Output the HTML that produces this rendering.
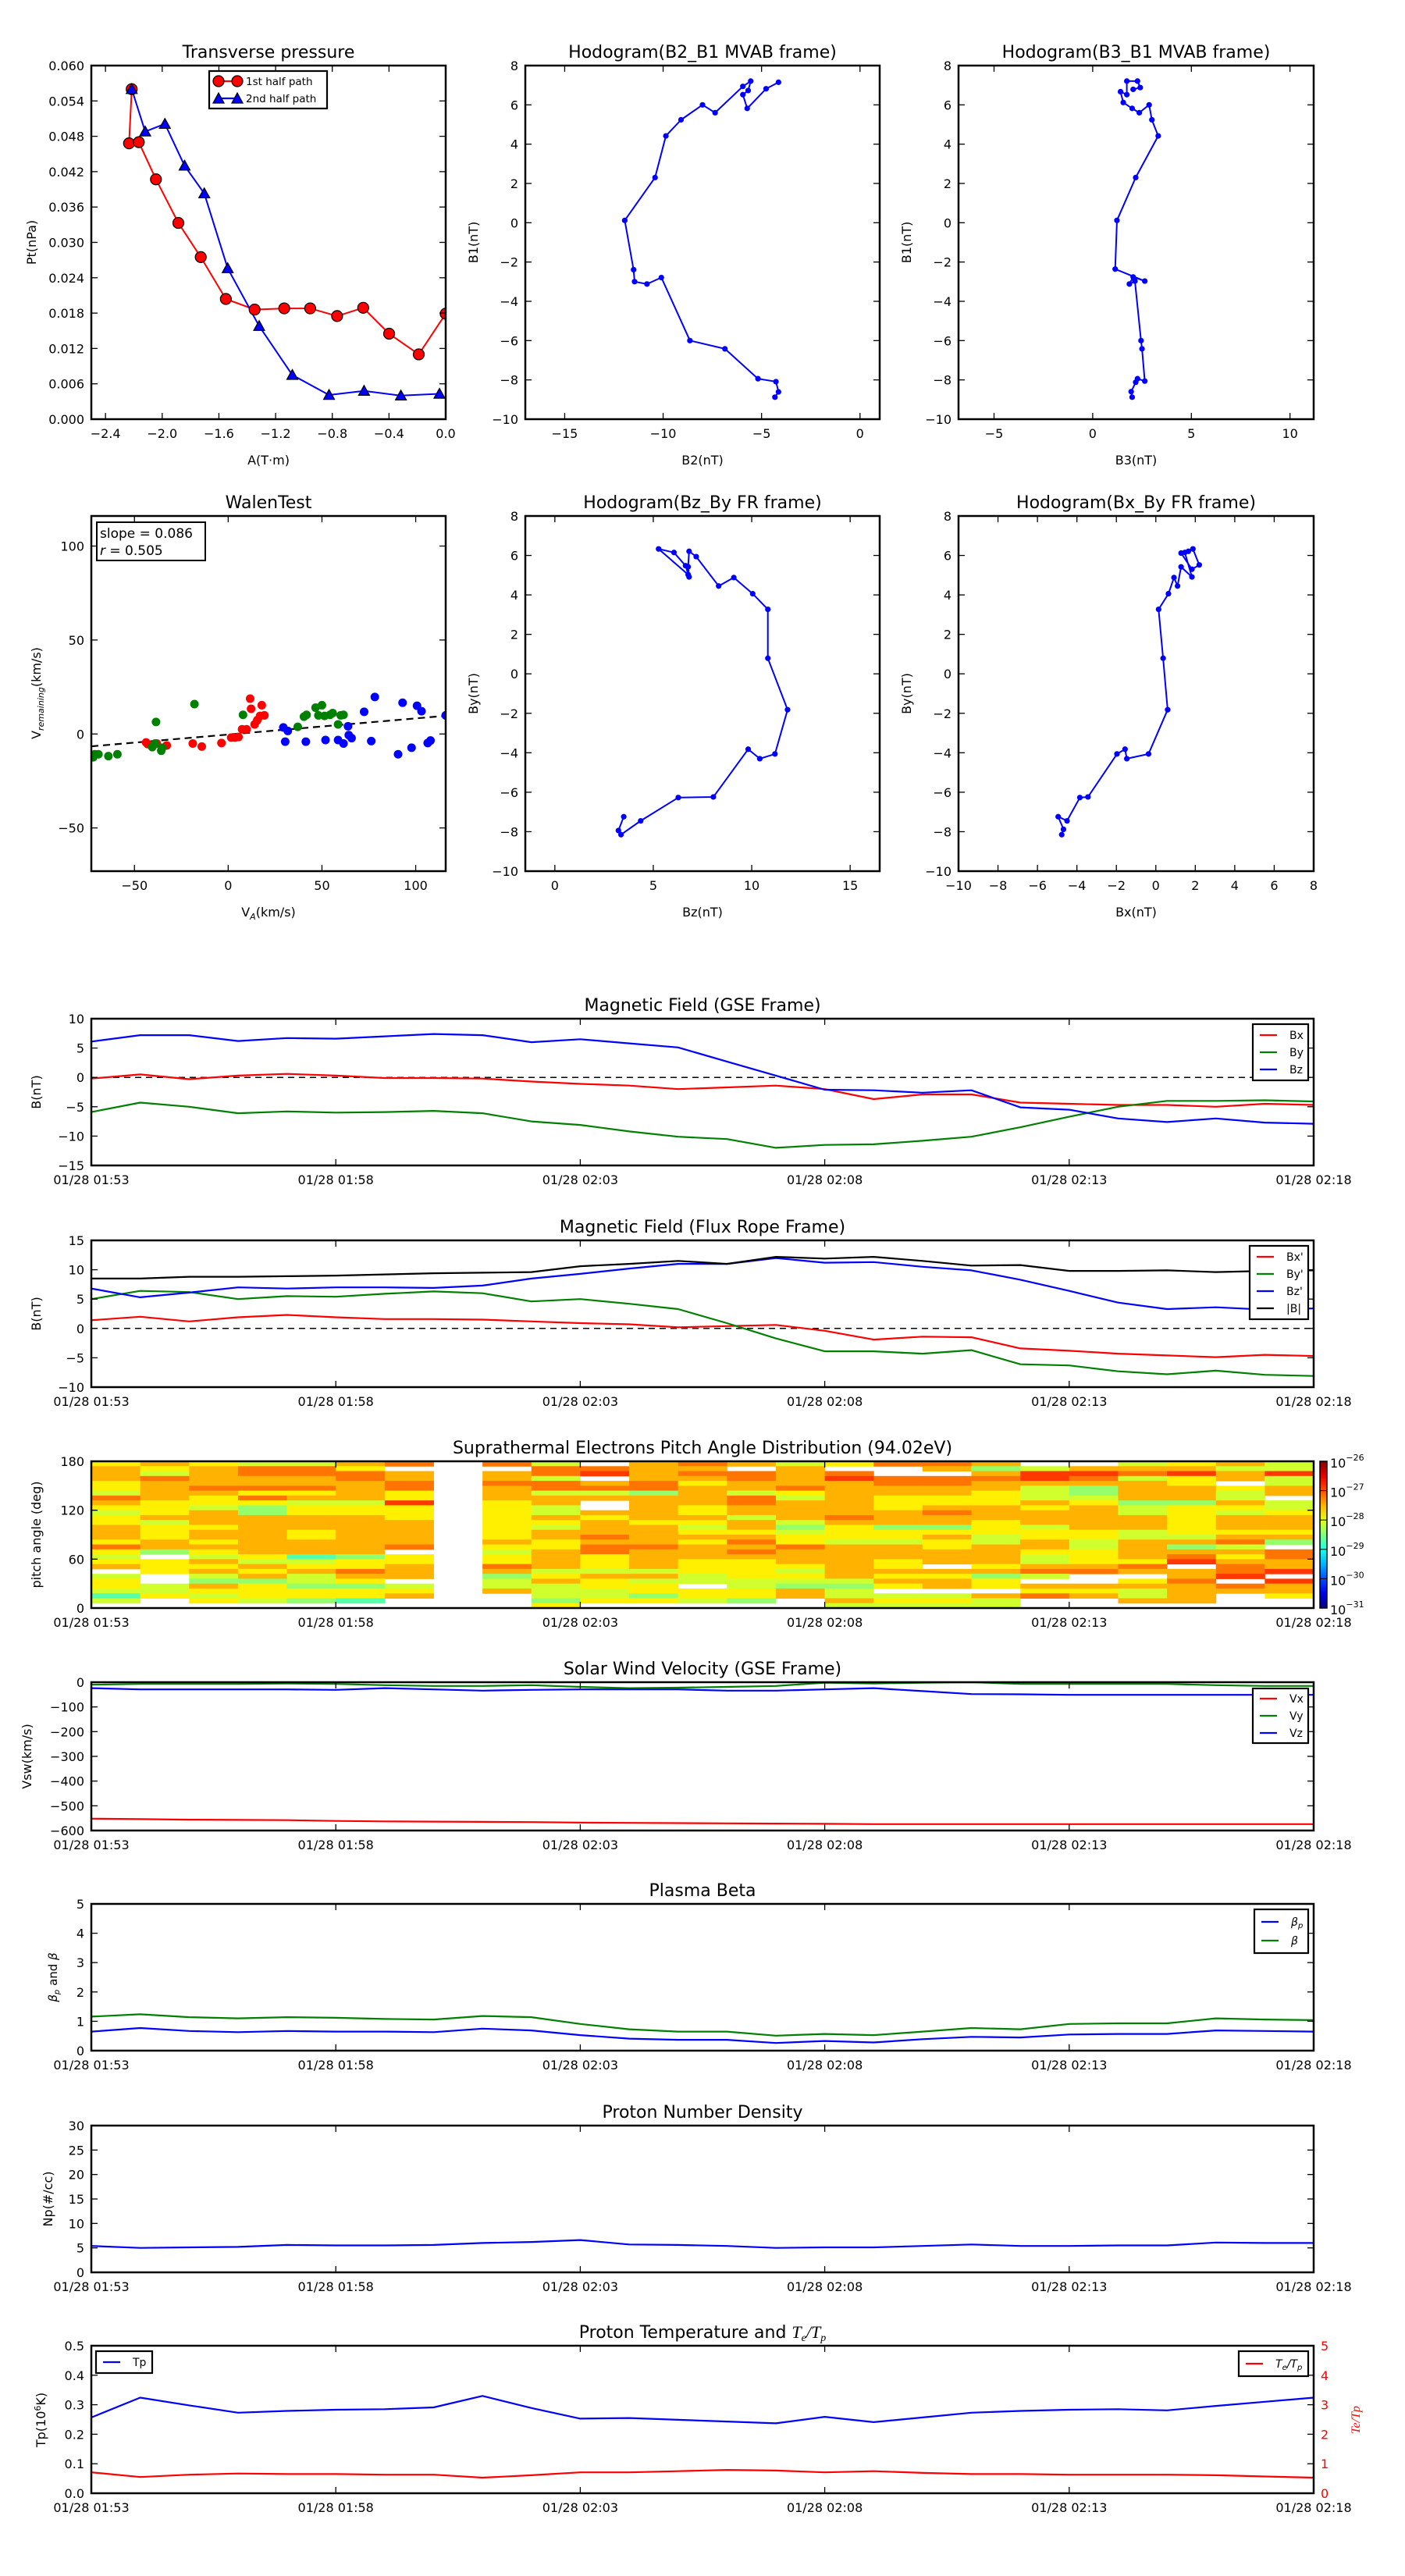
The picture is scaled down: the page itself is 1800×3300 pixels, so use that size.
<!DOCTYPE html>
<html><head><meta charset="utf-8">
<style>
html,body{margin:0;padding:0;background:#fff;}
svg{display:block;font-family:"DejaVu Sans","Liberation Sans",sans-serif;}
</style></head>
<body>
<svg id="fig" width="1800" height="3300" viewBox="0 0 1800 3300" xmlns="http://www.w3.org/2000/svg">
<rect width="1800" height="3300" fill="#fff"/>
</svg>
<script>
// ---------- data: transverse pressure ----------
const ptA1 = [-2.215,-2.234,-2.165,-2.044,-1.886,-1.728,-1.551,-1.348,-1.139,-0.956,-0.766,-0.582,-0.399,-0.190,0.0];
const ptP1 = [0.0560,0.0468,0.0470,0.0407,0.0333,0.0275,0.0204,0.0186,0.0188,0.0188,0.0175,0.0189,0.0145,0.0110,0.0179];
const ptA2 = [-2.215,-2.120,-1.981,-1.842,-1.703,-1.538,-1.316,-1.082,-0.823,-0.576,-0.316,-0.044];
const ptP2 = [0.0560,0.0488,0.0501,0.0430,0.0383,0.0256,0.0158,0.0075,0.0041,0.0048,0.0040,0.0043];
// ---------- hodograms ----------
const h1B2 = [-4.32,-4.14,-4.27,-5.18,-6.86,-8.64,-10.09,-10.82,-11.45,-11.5,-11.95,-10.41,-9.86,-9.09,-8.0,-7.36,-5.95,-5.55,-5.68,-5.95,-5.73,-4.77,-4.14];
const h1B1 = [-8.88,-8.61,-8.09,-7.94,-6.42,-6.0,-2.79,-3.12,-3.0,-2.39,0.12,2.30,4.42,5.24,6.0,5.6,6.94,7.21,6.73,6.52,5.82,6.82,7.15];
const h2B3 = [2.0,1.95,2.18,2.27,2.64,2.5,2.45,2.14,1.86,2.05,2.64,1.14,1.23,2.18,3.32,3.0,2.86,2.36,2.0,1.55,1.41,1.73,1.73,2.27,2.41,2.05];
const h2B1 = [-8.88,-8.6,-8.12,-7.94,-8.06,-6.42,-6.0,-2.97,-3.12,-2.76,-2.97,-2.36,0.12,2.3,4.42,5.24,6.0,5.6,5.82,6.12,6.67,6.52,7.21,7.21,6.88,6.79];
const h3Bz = [3.5,3.23,3.36,4.36,6.27,8.05,9.82,10.41,11.18,11.82,10.82,10.82,10.05,9.09,8.32,7.18,6.82,6.77,6.82,6.64,6.05,5.27,6.77];
const h3By = [-7.24,-7.94,-8.15,-7.45,-6.27,-6.24,-3.82,-4.3,-4.06,-1.82,0.79,3.27,4.06,4.88,4.45,5.94,6.21,5.42,4.91,5.48,6.15,6.33,5.03];
const h4Bx = [-4.77,-4.68,-4.95,-4.5,-3.85,-3.44,-1.97,-1.56,-1.47,-0.37,0.6,0.37,0.14,0.64,0.92,1.1,1.28,1.83,1.47,1.65,1.88,2.2,1.83,1.28];
const h4By = [-8.15,-7.88,-7.24,-7.45,-6.27,-6.24,-4.06,-3.82,-4.3,-4.06,-1.82,0.79,3.27,4.06,4.88,4.45,5.42,4.91,6.15,6.21,6.33,5.52,5.3,6.12];
// ---------- Walen test ----------
const walRedX = [-42.9,-43.8,-40.5,-38.1,-32.8,-18.9,-14.1,-3.6,1.6,3.6,5.5,7.4,9.8,11.7,12.2,14.1,15.5,17.0,17.9,19.3];
const walRedY = [-5.4,-4.5,-6.1,-5.1,-6.1,-5.1,-6.7,-4.8,-1.9,-1.9,-1.6,2.5,2.5,18.8,13.4,5.1,7.3,9.6,15.3,9.9];
const walGrnX = [-71.1,-72.0,-69.2,-63.9,-59.1,-40.5,-39.0,-35.7,-35.2,-38.5,-18.0,7.9,37.1,40.4,41.8,46.6,48.1,50.0,51.4,54.3,55.7,58.6,60.0,61.5];
const walGrnY = [-10.8,-12.4,-10.8,-11.8,-10.8,-7.0,-5.1,-8.9,-7.3,6.4,15.9,10.2,3.8,9.2,10.2,14.0,9.9,15.3,9.6,10.2,11.1,5.1,9.9,10.2];
const walBluX = [29.4,30.4,31.8,41.4,51.9,58.6,61.5,63.9,64.3,65.8,72.5,76.3,78.2,90.6,93.0,97.8,100.7,103.1,106.4,107.9,116.0];
const walBluY = [3.5,-4.1,1.6,-4.1,-3.2,-3.2,-5.1,4.1,-0.6,-2.2,11.8,-3.8,19.7,-10.8,16.6,-7.3,15.0,12.1,-4.8,-3.5,9.9];
const walSlope = 0.086, walIntercept = -0.3;
// ---------- time series (minutes after 01:53) ----------
const timeMin = [0,1,2,3,4,5,6,7,8,9,10,11,12,13,14,15,16,17,18,19,20,21,22,23,24,25];
const timeTickMin = [0,5,10,15,20,25];
const timeTickLabels = ['01/28 01:53','01/28 01:58','01/28 02:03','01/28 02:08','01/28 02:13','01/28 02:18'];
const gseBx = [-0.2,0.5,-0.3,0.3,0.6,0.3,-0.1,-0.1,-0.2,-0.7,-1.1,-1.4,-2.0,-1.7,-1.4,-2.0,-3.7,-2.9,-2.9,-4.3,-4.5,-4.7,-4.7,-5.0,-4.5,-4.7];
const gseBy = [-5.9,-4.3,-5.0,-6.1,-5.8,-6.0,-5.9,-5.7,-6.1,-7.5,-8.1,-9.2,-10.1,-10.5,-12.0,-11.5,-11.4,-10.8,-10.1,-8.5,-6.7,-5.0,-4.0,-4.0,-3.9,-4.1];
const gseBz = [6.1,7.2,7.2,6.2,6.7,6.6,7.0,7.4,7.2,6.0,6.5,5.8,5.1,2.7,0.3,-2.1,-2.2,-2.6,-2.2,-5.1,-5.5,-7.0,-7.6,-7.0,-7.7,-7.9];
const frBx = [1.4,2.0,1.2,1.9,2.3,1.9,1.6,1.6,1.5,1.2,0.9,0.7,0.2,0.4,0.6,-0.4,-1.9,-1.4,-1.5,-3.4,-3.8,-4.3,-4.6,-4.9,-4.5,-4.7];
const frBy = [5.0,6.4,6.2,5.0,5.5,5.4,5.9,6.3,6.0,4.6,5.0,4.2,3.3,0.9,-1.7,-3.9,-3.9,-4.3,-3.7,-6.1,-6.3,-7.3,-7.8,-7.2,-7.9,-8.1];
const frBz = [6.8,5.3,6.1,7.0,6.8,7.0,7.0,6.9,7.3,8.5,9.3,10.2,11.0,11.0,12.0,11.2,11.3,10.5,9.9,8.3,6.4,4.4,3.3,3.6,3.2,3.4];
const frBt = [8.5,8.5,8.8,8.8,8.9,9.0,9.2,9.4,9.5,9.6,10.6,11.0,11.5,11.0,12.2,11.9,12.2,11.5,10.7,10.8,9.8,9.8,9.9,9.6,9.8,9.9];
const vswVx = [-552,-554,-556,-557,-558,-561,-563,-564,-565,-566,-568,-569,-570,-571,-572,-573,-574,-574,-574,-574,-574,-574,-574,-574,-574,-574];
const vswVy = [-10,-7,-7,-7,-5,-7,-12,-15,-15,-12,-19,-24,-22,-19,-15,-2,-5,-2,0,-7,-7,-7,-7,-12,-15,-15];
const vswVz = [-24,-29,-29,-29,-29,-31,-24,-29,-34,-31,-29,-29,-29,-34,-34,-29,-24,-36,-48,-49,-51,-51,-51,-51,-51,-51];
const betaP = [0.65,0.77,0.67,0.63,0.67,0.65,0.65,0.63,0.75,0.69,0.53,0.41,0.37,0.37,0.26,0.33,0.28,0.39,0.47,0.45,0.55,0.57,0.57,0.69,0.67,0.65];
const betaT = [1.16,1.24,1.14,1.10,1.14,1.12,1.08,1.06,1.18,1.14,0.91,0.73,0.65,0.65,0.51,0.57,0.53,0.65,0.77,0.73,0.91,0.93,0.93,1.10,1.06,1.04];
const npVals = [5.4,5.0,5.1,5.2,5.6,5.5,5.5,5.6,6.0,6.2,6.6,5.7,5.6,5.4,5.0,5.1,5.1,5.4,5.7,5.4,5.4,5.5,5.5,6.1,6.0,6.0];
const tpVals = [0.257,0.324,0.298,0.273,0.279,0.283,0.285,0.291,0.330,0.289,0.253,0.255,0.249,0.243,0.237,0.259,0.241,0.257,0.273,0.279,0.283,0.285,0.281,0.296,0.310,0.324];
const teTpVals = [0.71,0.55,0.63,0.67,0.65,0.65,0.63,0.63,0.53,0.61,0.71,0.71,0.75,0.79,0.77,0.71,0.75,0.69,0.65,0.65,0.63,0.63,0.63,0.61,0.57,0.53];
// ---------- pitch angle distribution: one string per minute column, 30 bins from 180deg down to 0deg ----------
const padCodes = {a:-26.9,b:-27.2,c:-27.5,d:-27.8,e:-28.1,f:-28.4,g:-28.7};
const padCols = [
"dcccddebcdeddcccdbdedc.eddege.",
"cdebccccdddcedddccf.ddd..eed..",
"dccccbcddecccdccdcdecdcefcded.",
"ebbccbdbdffccccccccdecdcfddde.",
"ebbccbdceddcccddcccgedceefddf.",
"cdbbcccceddccccccccfddbcdfddg.",
"b.ccbbddadddcccccb.ddccc.edc..",
"..............................",
"b.ccbcccddddddddcdeddbcfeec...",
"ebbebbecceecdeccddccccedceeefd",
".ba.cbec..cdcccbcbbdddecddeed.",
"ccccbbfcccccdccccbccccecedd fd",
"bcbcdccccddcdedcdcccdddee.dde.",
"c.bbccebbcceccdcbcbcddddeeddf.",
"eccccbdeccccefeddbcccdedefcc..",
"d.bacccccccbcdddecccccccefeece",
"b..bbccdddcccfddecccddcdcd.ede",
"bc.bbccddcbccfdcddccc.cdcc.ede",
"cfcbccdddcccdddeeccccdcfdd.cee",
".eaaceeecdccceddccdeecbe.cdb..",
".cabcffedcccccddeedddcb..cdc..",
"ecbeccccfeeccceeccccdbc.dceec.",
"dcaddcccfddddddecfcba.ccbcccc.",
"cecc.deecdecccdcbecdcbba.bc...",
"eeaeecc.eedcccdcf.bbcca.accd.."
];
const padTimes = [0,1,2,3,4,5,6,7,8,9,10,11,12,13,14,15,16,17,18,19,20,21,22,23,24];
const cbarExp = [-26,-27,-28,-29,-30,-31];

// ---------- helpers ----------
const NS='http://www.w3.org/2000/svg';
const svg=document.getElementById('fig');
function mk(tag, attrs, parent, name, inter){
  const e=document.createElementNS(NS,tag);
  for(const k in attrs) e.setAttribute(k, attrs[k]);
  
  
  (parent||svg).appendChild(e);
  return e;
}
function txt(s, x, y, parent, name, opts){
  opts=opts||{};
  const a={x:x,y:y,'font-size':opts.size||16,fill:opts.fill||'#000','text-anchor':opts.anchor||'middle'};
  if(opts.transform) a.transform=opts.transform;
  if(opts.style) a['font-style']=opts.style;
  const t=mk('text',a,parent,name,false);
  t.textContent=s;
  return t;
}
function fmtNum(v,dec){ const s=Math.abs(v).toFixed(dec); return (v<-1e-9?'\u2212':'')+s; }

function axes(o){
  const g=mk('g',{},svg,o.name,false);
  const sx=v=>o.x0+(v-o.xmin)/(o.xmax-o.xmin)*(o.x1-o.x0);
  const sy=v=>o.y1-(v-o.ymin)/(o.ymax-o.ymin)*(o.y1-o.y0);
  const clipId='clip-'+o.name;
  const cp=mk('clipPath',{id:clipId},g,o.name+'-clip',false);
  mk('rect',{x:o.x0,y:o.y0,width:o.x1-o.x0,height:o.y1-o.y0},cp,o.name+'-clip-rect',false);
  const plot=mk('g',{'clip-path':'url(#'+clipId+')'},g,o.name+'-plot-area',false);
  const tk=mk('g',{},g,o.name+'-ticks',false);
  o.xticks.forEach((v,i)=>{
    const X=sx(v);
    mk('line',{x1:X,x2:X,y1:o.y1,y2:o.y1-8,stroke:'#000','stroke-width':1.3},tk,'x-tick',false);
    mk('line',{x1:X,x2:X,y1:o.y0,y2:o.y0+8,stroke:'#000','stroke-width':1.3},tk,'x-tick-top',false);
    txt(o.xlabels[i],X,o.y1+24,tk,'x-tick-label');
  });
  o.yticks.forEach((v,i)=>{
    const Y=sy(v);
    mk('line',{x1:o.x0,x2:o.x0+8,y1:Y,y2:Y,stroke:'#000','stroke-width':1.3},tk,'y-tick',false);
    if(!o.noRightTicks) mk('line',{x1:o.x1,x2:o.x1-8,y1:Y,y2:Y,stroke:'#000','stroke-width':1.3},tk,'y-tick-right',false);
    txt(o.ylabels[i],o.x0-9,Y+6,tk,'y-tick-label',{anchor:'end'});
  });
  if(o.title) txt(o.title,(o.x0+o.x1)/2,o.y0-10,g,'chart-title',{size:22});
  if(o.xlabel) txt(o.xlabel,(o.x0+o.x1)/2,o.y1+58,g,'x-axis-title');
  if(o.ylabel){ const yl=(o.y0+o.y1)/2; txt(o.ylabel,o.ylx,yl,g,'y-axis-title',{transform:'rotate(-90 '+o.ylx+' '+yl+')'}); }
  return {g,plot,sx,sy,o};
}
function frame(ax){
  const o=ax.o;
  mk('rect',{x:o.x0,y:o.y0,width:o.x1-o.x0,height:o.y1-o.y0,fill:'none',stroke:'#000','stroke-width':2.5},ax.g,'axes-frame',false);
}
function line(ax,xs,ys,color,name,w,dash){
  const d=xs.map((x,i)=>(i?'L':'M')+ax.sx(x).toFixed(1)+' '+ax.sy(ys[i]).toFixed(1)).join(' ');
  const a={d:d,fill:'none',stroke:color,'stroke-width':w||2.2,'stroke-linejoin':'round'};
  if(dash) a['stroke-dasharray']=dash;
  return mk('path',a,ax.plot,name,false);
}
function dots(ax,xs,ys,color,name,r,edge){
  xs.forEach((x,i)=>{
    const c=mk('circle',{cx:ax.sx(x),cy:ax.sy(ys[i]),r:r,fill:color},ax.plot,name,false);
    if(edge){ c.setAttribute('stroke','#000'); c.setAttribute('stroke-width',1.2); }
  });
}
function tris(ax,xs,ys,color,name,s){
  xs.forEach((x,i)=>{
    const X=ax.sx(x),Y=ax.sy(ys[i]);
    mk('polygon',{points:`${X},${Y-s} ${X-s},${Y+s*0.8} ${X+s},${Y+s*0.8}`,fill:color,stroke:'#000','stroke-width':1.2},ax.plot,name,false);
  });
}
function legend(x,y,w,h,items,name,rowH,lineW,parent){
  const g=mk('g',{},parent||svg,name,false);
  mk('rect',{x:x,y:y,width:w,height:h,fill:'#fff',stroke:'#000','stroke-width':2.2},g,name+'-box',false);
  items.forEach((it,i)=>{
    const cy=y+rowH*(i+0.5)+ (h-rowH*items.length)/2;
    const e=mk('g',{},g,'legend-entry',false);
    mk('line',{x1:x+9,x2:x+9+lineW,y1:cy,y2:cy,stroke:it.c,'stroke-width':2.2},e,'legend-line',false);
    if(it.m==='o'){ [x+12,x+9+lineW-3].forEach(X=>mk('circle',{cx:X,cy:cy,r:7,fill:it.c,stroke:'#000','stroke-width':1.2},e,'legend-marker',false)); }
    if(it.m==='^'){ [x+12,x+9+lineW-3].forEach(X=>mk('polygon',{points:`${X},${cy-7} ${X-7},${cy+6} ${X+7},${cy+6}`,fill:it.c,stroke:'#000','stroke-width':1.2},e,'legend-marker',false)); }
    const t=mk('text',{x:x+47,y:cy+5,'font-size':it.size||14,'text-anchor':'start'},e,'legend-label',false);
    if(it.html) t.innerHTML=it.html; else t.textContent=it.t;
    if(it.style) t.setAttribute('font-style',it.style);
  });
}
function range(a,b,s){const r=[];for(let v=a;v<=b+1e-9;v+=s)r.push(+v.toFixed(6));return r;}

// ---------- Transverse pressure ----------
{
  const xt=range(-2.4,0,0.4), yt=range(0,0.06,0.006);
  const ax=axes({name:'transverse-pressure-chart',x0:117,x1:571,y0:84,y1:537,xmin:-2.5,xmax:0,ymin:0,ymax:0.06,
    xticks:xt,xlabels:xt.map(v=>fmtNum(v,1)),yticks:yt,ylabels:yt.map(v=>v.toFixed(3)),
    title:'Transverse pressure',xlabel:'A(T\u00b7m)',ylabel:'Pt(nPa)',ylx:46});
  line(ax,ptA1,ptP1,'#f00','first-half-line',2);
  line(ax,ptA2,ptP2,'#00f','second-half-line',2);
  dots(ax,ptA1,ptP1,'#f00','first-half-point',7,true);
  tris(ax,ptA2,ptP2,'#00f','second-half-point',7);
  frame(ax);
  legend(268,91,151,48,[{t:'1st half path',c:'#f00',m:'o',size:13.5},{t:'2nd half path',c:'#00f',m:'^',size:13.5}],'pressure-legend',22,30);
}
// ---------- Hodograms ----------
function hodo(name,x0,x1,y0,y1,xmin,xmax,ymin,ymax,xt,yt,xs,ys,title,xl,yl,ylx){
  const ax=axes({name:name,x0:x0,x1:x1,y0:y0,y1:y1,xmin:xmin,xmax:xmax,ymin:ymin,ymax:ymax,
    xticks:xt,xlabels:xt.map(v=>fmtNum(v,0)),yticks:yt,ylabels:yt.map(v=>fmtNum(v,0)),title:title,xlabel:xl,ylabel:yl,ylx:ylx});
  line(ax,xs,ys,'#00f',name+'-line',2);
  dots(ax,xs,ys,'#00f',name+'-point',3.6,false);
  frame(ax);
}
hodo('hodogram-b2-b1',673,1127,84,537,-17,1,-10,8,[-15,-10,-5,0],range(-10,8,2),h1B2,h1B1,'Hodogram(B2_B1 MVAB frame)','B2(nT)','B1(nT)',612);
hodo('hodogram-b3-b1',1228,1683,84,537,-6.8,11.2,-10,8,[-5,0,5,10],range(-10,8,2),h2B3,h2B1,'Hodogram(B3_B1 MVAB frame)','B3(nT)','B1(nT)',1167);
hodo('hodogram-bz-by',673,1127,661,1116,-1.5,16.5,-10,8,[0,5,10,15],range(-10,8,2),h3Bz,h3By,'Hodogram(Bz_By FR frame)','Bz(nT)','By(nT)',612);
hodo('hodogram-bx-by',1228,1683,661,1116,-10,8,-10,8,range(-10,8,2),range(-10,8,2),h4Bx,h4By,'Hodogram(Bx_By FR frame)','Bx(nT)','By(nT)',1167);
// ---------- Walen test ----------
{
  const xt=[-50,0,50,100], yt=[-50,0,50,100];
  const ax=axes({name:'walen-test-chart',x0:117,x1:571,y0:661,y1:1116,xmin:-73,xmax:116,ymin:-73,ymax:116,
    xticks:xt,xlabels:xt.map(v=>fmtNum(v,0)),yticks:yt,ylabels:yt.map(v=>fmtNum(v,0)),title:'WalenTest',ylx:52});
  line(ax,[-73,116],[walIntercept+walSlope*-73,walIntercept+walSlope*116],'#000','fit-line',2.2,'9 6');
  dots(ax,walRedX,walRedY,'#f00','walen-point-red',5.5,false);
  dots(ax,walGrnX,walGrnY,'#008000','walen-point-green',5.5,false);
  dots(ax,walBluX,walBluY,'#00f','walen-point-blue',5.5,false);
  frame(ax);
  const xl=mk('text',{x:344,y:1174,'font-size':16,'text-anchor':'middle'},ax.g,'x-axis-title',false);
  xl.innerHTML='V<tspan font-size="11" dy="4" font-style="italic">A</tspan><tspan dy="-4">(km/s)</tspan>';
  const yl=mk('text',{x:52,y:888,'font-size':16,'text-anchor':'middle',transform:'rotate(-90 52 888)'},ax.g,'y-axis-title',false);
  yl.innerHTML='V<tspan font-size="11" dy="4" font-style="italic">remaining</tspan><tspan dy="-4">(km/s)</tspan>';
  const bx=mk('g',{},ax.g,'fit-stats-box',false);
  mk('rect',{x:124,y:669,width:139,height:49,fill:'#fff',stroke:'#000','stroke-width':2},bx,'fit-stats-frame',false);
  txt('slope = '+walSlope.toFixed(3),128,689,bx,'slope-text',{anchor:'start',size:17});
  const rt=mk('text',{x:128,y:711,'font-size':17},bx,'r-text',false);
  rt.innerHTML='<tspan font-style="italic">r</tspan> = 0.505';
}
// ---------- time-series panels ----------
function tpanel(name,y0,y1,ymin,ymax,yt,ylabels,title,ylabel,ylx){
  return axes({name:name,x0:117,x1:1683,y0:y0,y1:y1,xmin:0,xmax:25,ymin:ymin,ymax:ymax,
    xticks:timeTickMin,xlabels:timeTickLabels,yticks:yt,ylabels:ylabels,title:title,ylabel:ylabel,ylx:ylx});
}
{
  const yt=range(-15,10,5);
  const ax=tpanel('gse-magnetic-field-chart',1305,1493,-15,10,yt,yt.map(v=>fmtNum(v,0)),'Magnetic Field (GSE Frame)','B(nT)',52);
  line(ax,[0,25],[0,0],'#000','zero-line',1.5,'8 6');
  line(ax,timeMin,gseBx,'#f00','bx-line');
  line(ax,timeMin,gseBy,'#008000','by-line');
  line(ax,timeMin,gseBz,'#00f','bz-line');
  frame(ax);
  legend(1605,1312,71,72,[{t:'Bx',c:'#f00'},{t:'By',c:'#008000'},{t:'Bz',c:'#00f'}],'gse-legend',22,22);
}
{
  const yt=range(-10,15,5);
  const ax=tpanel('flux-rope-magnetic-field-chart',1589,1777,-10,15,yt,yt.map(v=>fmtNum(v,0)),'Magnetic Field (Flux Rope Frame)','B(nT)',52);
  line(ax,[0,25],[0,0],'#000','zero-line',1.5,'8 6');
  line(ax,timeMin,frBx,'#f00','bx-prime-line');
  line(ax,timeMin,frBy,'#008000','by-prime-line');
  line(ax,timeMin,frBz,'#00f','bz-prime-line');
  line(ax,timeMin,frBt,'#000','b-total-line');
  frame(ax);
  legend(1601,1596,75,94,[{t:"Bx'",c:'#f00'},{t:"By'",c:'#008000'},{t:"Bz'",c:'#00f'},{t:'|B|',c:'#000'}],'fr-legend',22,22);
}
{
  const yt=[0,60,120,180];
  const ax=tpanel('pitch-angle-distribution-chart',1872,2060,0,180,yt,yt.map(v=>String(v)),'Suprathermal Electrons Pitch Angle Distribution (94.02eV)','pitch angle (deg)',52);
  function jet(t){ const c=v=>Math.round(255*Math.max(0,Math.min(1,v))); return `rgb(${c(1.5-Math.abs(4*t-3))},${c(1.5-Math.abs(4*t-2))},${c(1.5-Math.abs(4*t-1))})`; }
  padTimes.forEach((tm,ci)=>{
    const s=padCols[ci].replace(/[^a-g.]/g,'').padEnd(30,'.').slice(0,30);
    for(let r=0;r<30;r++){
      const ch=s[r]; if(!(ch in padCodes)) continue;
      const v=padCodes[ch];
      const a0=180-r*6;
      const X0=ax.sx(tm), X1=ax.sx(tm+1), Y0=ax.sy(a0), Y1=ax.sy(a0-6);
      mk('rect',{x:X0,y:Y0,width:X1-X0+0.5,height:Y1-Y0+0.5,fill:jet((v+31)/5)},ax.plot,'pad-cell',false);
    }
  });
  frame(ax);
  const cb=mk('g',{},svg,'colorbar',false);
  const gr=mk('linearGradient',{id:'jetgrad',x1:0,y1:1,x2:0,y2:0},cb,'colorbar-gradient',false);
  for(let i=0;i<=10;i++){ mk('stop',{offset:i/10,'stop-color':jet(i/10)},gr,'gradient-stop',false); }
  mk('rect',{x:1691,y:1872,width:9,height:188,fill:'url(#jetgrad)',stroke:'#000','stroke-width':1.5},cb,'colorbar-bar',false);
  cbarExp.forEach((e,i)=>{
    const Y=1872+i*188/5;
    mk('line',{x1:1691,x2:1700,y1:Y,y2:Y,stroke:'#000','stroke-width':1},cb,'colorbar-tick',false);
    const t=mk('text',{x:1704,y:Y+8,'font-size':16},cb,'colorbar-label',false);
    t.innerHTML='10<tspan font-size="11" dy="-9">'+String(e).replace('-','\u2212')+'</tspan>';
  });
}
{
  const yt=range(-600,0,100);
  const ax=tpanel('solar-wind-velocity-chart',2155,2345,-600,0,yt,yt.map(v=>fmtNum(v,0)),'Solar Wind Velocity (GSE Frame)','Vsw(km/s)',40);
  line(ax,timeMin,vswVx,'#f00','vx-line');
  line(ax,timeMin,vswVy,'#008000','vy-line');
  line(ax,timeMin,vswVz,'#00f','vz-line');
  frame(ax);
  legend(1605,2163,71,70,[{t:'Vx',c:'#f00'},{t:'Vy',c:'#008000'},{t:'Vz',c:'#00f'}],'velocity-legend',22,22);
}
{
  const yt=range(0,5,1);
  const ax=tpanel('plasma-beta-chart',2439,2627,0,5,yt,yt.map(v=>String(v)),'Plasma Beta','',0);
  line(ax,timeMin,betaP,'#00f','beta-p-line');
  line(ax,timeMin,betaT,'#008000','beta-line');
  frame(ax);
  const yl=mk('text',{x:73,y:2533,'font-size':15,'text-anchor':'middle',transform:'rotate(-90 73 2533)'},ax.g,'y-axis-title',false);
  yl.innerHTML='<tspan font-style="italic">\u03b2</tspan><tspan font-size="10" dy="3" font-style="italic">p</tspan><tspan dy="-3"> and </tspan><tspan font-style="italic">\u03b2</tspan>';
  legend(1607,2446,69,56,[{t:'\u03b2p',html:'\u03b2<tspan font-size="10" dy="3">p</tspan>',c:'#00f',style:'italic',size:14},{t:'\u03b2',c:'#008000',style:'italic',size:14}],'beta-legend',24,22);
}
{
  const yt=range(0,30,5);
  const ax=tpanel('proton-density-chart',2723,2911,0,30,yt,yt.map(v=>String(v)),'Proton Number Density','Np(#/cc)',67);
  line(ax,timeMin,npVals,'#00f','np-line');
  frame(ax);
}
{
  const yt=range(0,0.5,0.1);
  const ax=axes({name:'proton-temperature-chart',x0:117,x1:1683,y0:3005,y1:3194,xmin:0,xmax:25,ymin:0,ymax:0.5,
    xticks:timeTickMin,xlabels:timeTickLabels,yticks:yt,ylabels:yt.map(v=>v.toFixed(1)),noRightTicks:true});
  const ax2={plot:ax.plot,sx:ax.sx,sy:v=>3194-v/5*(3194-3005)};
  line(ax,timeMin,tpVals,'#00f','tp-line');
  line(ax2,timeMin,teTpVals,'#f00','te-tp-line');
  frame(ax);
  const rt=mk('g',{},svg,'right-axis',false);
  [0,1,2,3,4,5].forEach(v=>{
    const Y=ax2.sy(v);
    mk('line',{x1:1683,x2:1675,y1:Y,y2:Y,stroke:'#000','stroke-width':1.3},rt,'right-tick',false);
    txt(String(v),1692,Y+6,rt,'right-tick-label',{anchor:'start',fill:'#f00'});
  });
  const title=mk('text',{x:900,y:2995,'font-size':22,'text-anchor':'middle'},svg,'chart-title',false);
  title.innerHTML='Proton Temperature and <tspan font-family="Liberation Serif" font-style="italic">T</tspan><tspan font-family="Liberation Serif" font-style="italic" font-size="14" dy="4">e</tspan><tspan font-family="Liberation Serif" font-style="italic" dy="-4">/T</tspan><tspan font-family="Liberation Serif" font-style="italic" font-size="14" dy="4">p</tspan>';
  const yl=mk('text',{x:58,y:3100,'font-size':16,'text-anchor':'middle',transform:'rotate(-90 58 3100)'},svg,'y-axis-title',false);
  yl.innerHTML='Tp(10<tspan font-size="11" dy="-6">6</tspan><tspan dy="6">K)</tspan>';
  const yr=mk('text',{x:1742,y:3100,'font-size':16,'text-anchor':'middle',fill:'#f00','font-style':'italic','font-family':'Liberation Serif',transform:'rotate(-90 1742 3100)'},svg,'right-axis-title',false);
  yr.textContent='Te/Tp';
  legend(123,3012,72,28,[{t:'Tp',c:'#00f'}],'tp-legend',26,22);
  legend(1587,3012,89,32,[{t:'Te/Tp',html:'T<tspan font-size="10" dy="3">e</tspan><tspan dy="-3">/T</tspan><tspan font-size="10" dy="3">p</tspan>',c:'#f00',style:'italic',size:14}],'te-tp-legend',30,22);
}
</script>
</body></html>
